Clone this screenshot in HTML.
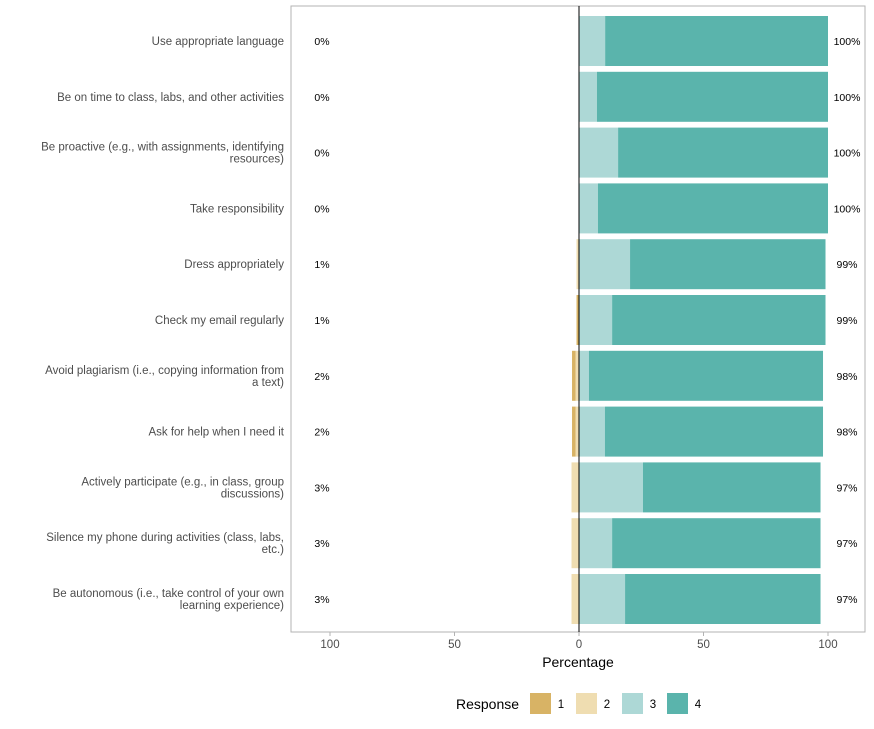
<!DOCTYPE html>
<html><head><meta charset="utf-8"><style>
body{margin:0;background:#fff;font-family:"Liberation Sans",Arial,sans-serif}
svg{display:block}
</style></head><body>
<svg id="c" width="874" height="729"></svg>
<script>
const categories=["Use appropriate language","Be on time to class, labs, and other activities","Be proactive (e.g., with assignments, identifying|resources)","Take responsibility","Dress appropriately","Check my email regularly","Avoid plagiarism (i.e., copying information from|a text)","Ask for help when I need it","Actively participate (e.g., in class, group|discussions)","Silence my phone during activities (class, labs,|etc.)","Be autonomous (i.e., take control of your own|learning experience)"];
const r1=[0,0,0,0,0,1,1.4,1.4,0,0,0];
const r2=[0,0,0,0,1,0,1.4,1.4,3,3,3];
const r3=[10.5,7.2,15.7,7.6,20.5,13.3,4,10.4,25.7,13.3,18.5];
const r4=[89.5,92.8,84.3,92.4,78.5,85.7,94,87.6,71.3,83.7,78.5];
const leftLabels=["0%","0%","0%","0%","1%","1%","2%","2%","3%","3%","3%"];
const rightLabels=["100%","100%","100%","100%","99%","99%","98%","98%","97%","97%","97%"];
const ticks=[-100,-50,0,50,100];
const colors=["#D8B365","#EFDDB1","#ADD8D6","#5AB4AC"];
const svg=document.getElementById('c');const NS="http://www.w3.org/2000/svg";
function mk(t,a,p){const e=document.createElementNS(NS,t);for(const k in a)e.setAttribute(k,a[k]);(p||svg).appendChild(e);return e;}
const x=v=>579+v*2.49;
const y0=15,step=55.8,bh=50;
const yc=i=>y0+i*step+bh/2+1;
mk('rect',{x:291,y:6,width:574,height:626,fill:'none',stroke:'#b3b3b3','stroke-width':1});
categories.forEach((c,i)=>{
  const top=yc(i)-bh/2;
  let s=[[-(r1[i]+r2[i]),r1[i],0],[-r2[i],r2[i],1],[0,r3[i],2],[r3[i],r4[i],3]];
  s.forEach(([st,w,k])=>{if(w<=0)return;const r=mk('rect',{x:x(st),y:top,width:w*2.49,height:bh,fill:colors[k]});
    
    });
  const lines=c.split('|');
  lines.forEach((l,j)=>{const t=mk('text',{x:284,y:yc(i)+4+(j-(lines.length-1)/2)*12,'text-anchor':'end','font-size':11.5,fill:'#4d4d4d'});t.textContent=l;
    
    });
  const lt=mk('text',{x:322,y:yc(i)+4,'text-anchor':'middle','font-size':10.5,fill:'#000'});lt.textContent=leftLabels[i];
  
  
  const rt=mk('text',{x:847,y:yc(i)+4,'text-anchor':'middle','font-size':10.5,fill:'#000'});rt.textContent=rightLabels[i];
  
  
});
mk('line',{x1:x(0),x2:x(0),y1:6,y2:632,stroke:'#000','stroke-width':1});
ticks.forEach(v=>{mk('line',{x1:x(v),x2:x(v),y1:632,y2:636,stroke:'#b3b3b3'});
  const t=mk('text',{x:x(v),y:648,'text-anchor':'middle','font-size':11.5,fill:'#4d4d4d'});t.textContent=Math.abs(v);
  
  });
const xt=mk('text',{x:578,y:667,'text-anchor':'middle','font-size':14,fill:'#000'});xt.textContent='Percentage';


const lg=mk('text',{x:456,y:709,'font-size':14,fill:'#000'});lg.textContent='Response';


[530,576,622,667].forEach((lx,k)=>{const r=mk('rect',{x:lx,y:693,width:21,height:21,fill:colors[k]});
  
  
  const t=mk('text',{x:lx+31,y:708,'text-anchor':'middle','font-size':11.5,fill:'#000'});t.textContent=k+1;
  
  });
</script>
</body></html>
